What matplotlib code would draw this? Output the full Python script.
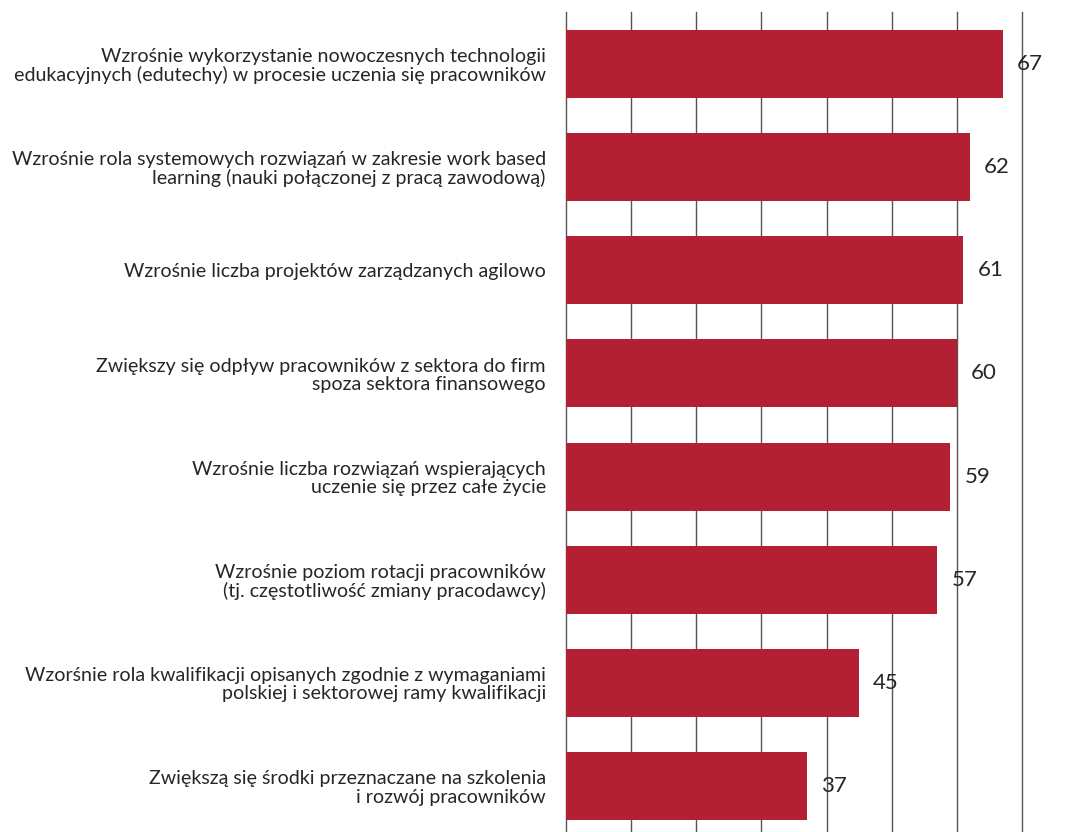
import matplotlib
matplotlib.use("Agg")
import matplotlib.pyplot as plt

plt.rcParams['font.family'] = ['Lato', 'DejaVu Sans']

# odpowiedzi respondentów, % wskazań
labels = [
    "Wzrośnie wykorzystanie nowoczesnych technologii\nedukacyjnych (edutechy) w procesie uczenia się pracowników",
    "Wzrośnie rola systemowych rozwiązań w zakresie work based\nlearning (nauki połączonej z pracą zawodową)",
    "Wzrośnie liczba projektów zarządzanych agilowo",
    "Zwiększy się odpływ pracowników z sektora do firm\nspoza sektora finansowego",
    "Wzrośnie liczba rozwiązań wspierających\nuczenie się przez całe życie",
    "Wzrośnie poziom rotacji pracowników\n(tj. częstotliwość zmiany pracodawcy)",
    "Wzorśnie rola kwalifikacji opisanych zgodnie z wymaganiami\npolskiej i sektorowej ramy kwalifikacji",
    "Zwiększą się środki przeznaczane na szkolenia\ni rozwój pracowników",
]
values = [67, 62, 61, 60, 59, 57, 45, 37]
grid_ticks = [0, 10, 20, 30, 40, 50, 60, 70]

bar_color = "#B31F33"
text_color = "#262626"

fig = plt.figure(figsize=(10.77, 8.32), dpi=100)
ax = fig.add_axes([0.5255, 0.0, 0.4235, 0.9856])

pos = list(range(len(values)))
ax.barh(pos, values, height=0.66, color=bar_color, zorder=2)

for x in grid_ticks:
    ax.axvline(x, color="#555555", linewidth=1.0, zorder=1, clip_on=False)

for y, v in zip(pos, values):
    ax.text(v + 2.15, y, str(v), va="center", ha="left",
            fontsize=16, color=text_color, zorder=3)

ax.set_xlim(0, 70)
ax.set_ylim(len(values) - 0.554, -0.504)
ax.set_yticks(pos)
ax.set_yticklabels(labels, fontsize=14.1, color=text_color, ha="right",
                   linespacing=1.08)
ax.tick_params(axis="y", length=0, pad=14.5)
ax.set_xticks([])
for s in ax.spines.values():
    s.set_visible(False)

fig.savefig("out.png", dpi=100)
